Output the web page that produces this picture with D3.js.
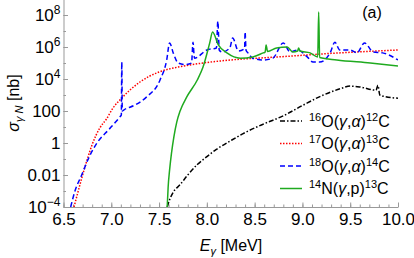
<!DOCTYPE html>
<html>
<head>
<meta charset="utf-8">
<style>
  body { margin: 0; background: #fff; }
  svg { font-family: "Liberation Sans", Arial, sans-serif; }
</style>
</head>
<body>
<script src="https://cdn.jsdelivr.net/npm/d3@7"></script>
<script>
// energies in MeV, cross sections in nb
var eO16 = [7.585, 7.61, 7.65, 7.72, 7.80, 7.90, 8.00, 8.10, 8.25, 8.40, 8.60, 8.80, 9.00, 9.20, 9.40, 9.50, 9.60, 9.77, 9.79, 9.81, 9.86, 10.0];
var sO16 = [1e-4, 2.8e-4, 8.7e-4, 2.5e-3, 1e-2, 4.5e-2, 0.14, 0.4, 1.4, 4.5, 16, 50, 220, 890, 2500, 3600, 3200, 2000, 4000, 1000, 800, 630];

var eO17 = [6.61, 6.65, 6.70, 6.75, 6.80, 6.88, 6.95, 7.02, 7.10, 7.30, 7.50, 7.70, 7.90, 8.25, 8.75, 9.30, 10.0];
var sO17 = [1e-4, 8e-4, 0.01, 0.1, 0.8, 8.7, 32, 160, 560, 6500, 2.75e4, 5.6e4, 8.9e4, 1.55e5, 2.4e5, 4e5, 6.5e5];

var eO18 = [6.575, 6.62, 6.69, 6.77, 6.85, 6.97, 7.05, 7.09, 7.105, 7.11, 7.115, 7.13, 7.25, 7.37, 7.51, 7.58, 7.61, 7.65, 7.70, 7.77, 7.84, 7.855, 7.87,
            8.0, 8.1, 8.115, 8.13, 8.16, 8.24, 8.27, 8.33, 8.395, 8.40, 8.41, 8.43, 8.48, 8.59, 8.69, 8.80, 8.87, 8.95, 9.05, 9.11, 9.18,
            9.29, 9.34, 9.39, 9.50, 9.57, 9.65, 9.74, 9.84, 10.0];
var sO18 = [1e-4, 1e-3, 0.01, 0.14, 1, 6.5, 22, 43, 56, 1.15e5, 100, 115, 240, 760, 8700, 1.55e5, 1.8e6, 4e5, 1e5, 8e4, 1e5, 2e6, 2e5,
            6.5e5, 8.7e5, 4e7, 6.3e5, 4.9e5, 8.7e5, 3.6e6, 5.6e5, 8e5, 8.7e6, 6.3e5, 4.3e5, 2e5, 1.55e5, 2e5, 1.8e6, 4.9e5, 6.5e5, 2.4e5, 1.15e5, 1.15e5,
            4.3e5, 2e6, 6.5e5, 6.5e5, 4.3e5, 1.8e6, 4.9e5, 4.3e5, 1.55e5];

var eN14 = [7.585, 7.595, 7.61, 7.63, 7.655, 7.685, 7.72, 7.79, 7.90, 7.96, 8.03, 8.06, 8.12, 8.21, 8.35, 8.48, 8.59, 8.61, 8.62, 8.635,
            8.73, 8.84, 8.90, 8.95, 8.96, 8.975, 9.08, 9.16, 9.17, 9.18, 9.36, 9.71, 10.0];
var sN14 = [1e-4, 1.8e-3, 0.02, 0.23, 2.4, 20, 100, 760, 8700, 5.6e4, 1.8e6, 8.7e6, 1.35e6, 4.3e5, 2e5, 2.4e5, 4.3e5, 4.8e5, 1.35e6, 5.2e5,
            8.7e5, 1e6, 4.9e5, 5.6e5, 8.7e5, 5.6e5, 4.3e5, 2.4e5, 1.55e8, 2.2e5, 1.55e5, 1e5, 6.5e4];

var xTicks = [6.5, 7.0, 7.5, 8.0, 8.5, 9.0, 9.5, 10.0];
var yTicks = [1e-4, 1e-2, 1, 100, 1e4, 1e6, 1e8];
var yTickLabels = [['10', '\u22124'], ['0.01'], ['1'], ['100'], ['10', '4'], ['10', '6'], ['10', '8']];

var series = [
    { e: eO16, s: sO16, color: '#000', dash: '5,2,1.5,2', a: '16', b: '12', r: '\u03b1', name: 'O' },
    { e: eO17, s: sO17, color: '#ff0000', dash: '1.5,1.5', a: '17', b: '13', r: '\u03b1', name: 'O' },
    { e: eO18, s: sO18, color: '#0000ff', dash: '5,3', a: '18', b: '14', r: '\u03b1', name: 'O' },
    { e: eN14, s: sN14, color: '#1faa1f', dash: null, a: '14', b: '13', r: 'p', name: 'N' }
];

var svg = d3.select('body').append('svg')
    .attr('width', 414)
    .attr('height', 258);

var x = d3.scaleLinear().domain([6.5, 10]).range([63.5, 398]);
var y = d3.scaleLog().domain([1e-4, 1e9]).range([207, -1]);

// clip to plot region
svg.append('clipPath').attr('id', 'clip')
    .append('rect').attr('x', 63.5).attr('y', -1).attr('width', 334.5).attr('height', 208);

// x axis
var xMinor = d3.range(65, 101).map(function (d) { return d / 10; });
svg.append('g').attr('transform', 'translate(0,207)')
    .call(d3.axisBottom(x).tickValues(xMinor).tickSizeInner(-2.5).tickSizeOuter(0).tickFormat(''))
    .call(function (g) { g.selectAll('line, path').attr('stroke', '#999'); });
svg.append('g').attr('transform', 'translate(0,207)')
    .call(d3.axisBottom(x).tickValues(xTicks).tickSizeInner(-4.5).tickSizeOuter(0).tickPadding(6)
        .tickFormat(d3.format('.1f')))
    .call(function (g) {
        g.selectAll('line, path').attr('stroke', '#999');
        g.select('.domain').remove();
        g.selectAll('text').attr('font-size', 17).attr('fill', '#000').attr('font-family', null);
    });

// y axis
var yMinor = d3.range(-4, 10).map(function (d) { return Math.pow(10, d); });
svg.append('g').attr('transform', 'translate(63.5,0)')
    .call(d3.axisLeft(y).tickValues(yMinor).tickSizeInner(-2.5).tickSizeOuter(0).tickFormat(''))
    .call(function (g) { g.selectAll('line, path').attr('stroke', '#999'); });
var yAxis = svg.append('g').attr('transform', 'translate(63.5,0)')
    .call(d3.axisLeft(y).tickValues(yTicks).tickSizeInner(-4.5).tickSizeOuter(0).tickPadding(3).tickFormat(''));
yAxis.selectAll('line').attr('stroke', '#999');
yAxis.select('.domain').remove();
yAxis.selectAll('.tick text').each(function (d, i) {
    var t = d3.select(this).attr('font-size', 17).attr('fill', '#000').attr('font-family', null);
    var parts = yTickLabels[i];
    t.append('tspan').text(parts[0]);
    if (parts.length > 1) {
        t.append('tspan').attr('font-size', 12).attr('dy', '-0.6em').text(parts[1]);
    }
});

// curves
var line = d3.line()
    .x(function (d) { return x(d[0]); })
    .y(function (d) { return y(d[1]); })
    .curve(d3.curveMonotoneX);

svg.append('g').attr('clip-path', 'url(#clip)')
    .selectAll('path').data(series).enter().append('path')
    .attr('d', function (d) { return line(d3.zip(d.e, d.s)); })
    .attr('fill', 'none')
    .attr('stroke', function (d) { return d.color; })
    .attr('stroke-width', 1.5)
    .attr('stroke-dasharray', function (d) { return d.dash; });

// legend
var leg = svg.append('g').selectAll('g').data(series).enter().append('g')
    .attr('transform', function (d, i) { return 'translate(0,' + (121 + i * 22.5) + ')'; });
leg.append('line')
    .attr('x1', 280).attr('x2', 302)
    .attr('stroke', function (d) { return d.color; })
    .attr('stroke-width', 1.5)
    .attr('stroke-dasharray', function (d) { return d.dash; });
var lt = leg.append('text').attr('x', 309).attr('y', 5.5).attr('font-size', 16);
lt.append('tspan').attr('font-size', 11).attr('dy', -6).text(function (d) { return d.a; });
lt.append('tspan').attr('dy', 6).text(function (d) { return d.name + '('; });
lt.append('tspan').attr('font-style', 'italic').text('\u03b3');
lt.append('tspan').text(',');
lt.append('tspan').attr('font-style', function (d) { return d.r === 'p' ? null : 'italic'; })
    .text(function (d) { return d.r; });
lt.append('tspan').text(')');
lt.append('tspan').attr('font-size', 11).attr('dy', -6).text(function (d) { return d.b; });
lt.append('tspan').attr('dy', 6).text('C');

// panel tag
svg.append('text').attr('x', 372).attr('y', 18).attr('text-anchor', 'middle')
    .attr('font-size', 16).text('(a)');

// axis titles
var xl = svg.append('text').attr('x', 231).attr('y', 251).attr('text-anchor', 'middle').attr('font-size', 16);
xl.append('tspan').attr('font-style', 'italic').text('E');
xl.append('tspan').attr('font-size', 11).attr('dy', 4).attr('font-style', 'italic').text('\u03b3');
xl.append('tspan').attr('dy', -4).text(' [MeV]');

var yl = svg.append('text').attr('transform', 'translate(19,103) rotate(-90)')
    .attr('text-anchor', 'middle').attr('font-size', 16);
yl.append('tspan').attr('font-style', 'italic').text('\u03c3');
yl.append('tspan').attr('font-size', 11).attr('dy', 4).attr('font-style', 'italic').text('\u03b3 N');
yl.append('tspan').attr('dy', -4).text(' [nb]');
</script>
</body>
</html>
